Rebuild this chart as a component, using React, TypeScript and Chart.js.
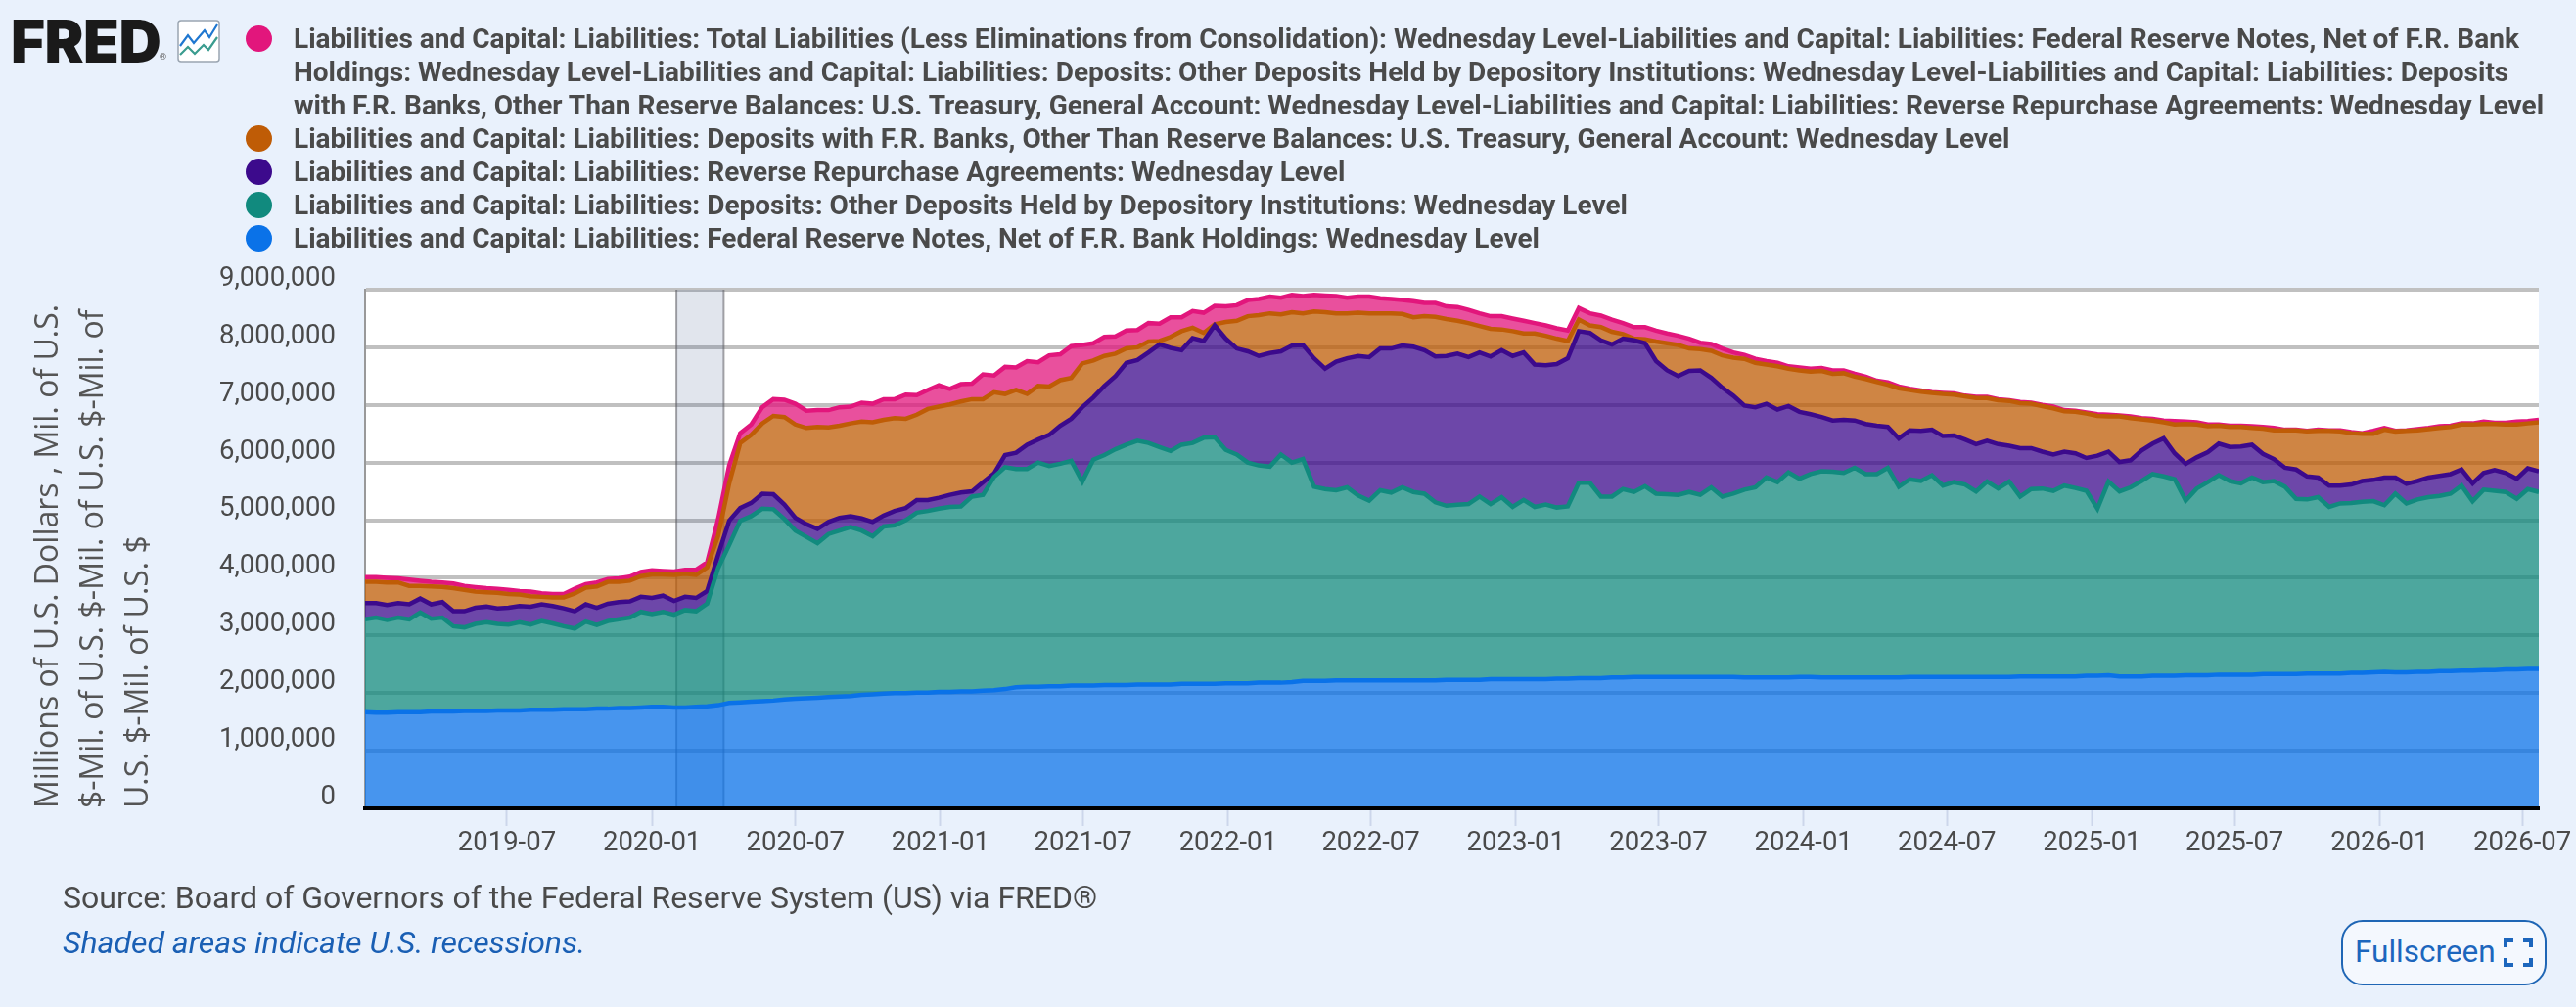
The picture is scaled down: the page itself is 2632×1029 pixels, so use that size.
import React, { useEffect, useRef } from 'react';
import { Chart, registerables } from 'chart.js';

Chart.register(...registerables);

// Levels every two weeks, in trillions of dollars.
// Each list is the top edge of its band in the stack, so bands fill down to the previous list.
const notesLevel = [
  1.67,1.66,1.66,1.67,1.67,1.67,1.68,1.68,1.68,1.69,1.69,1.69,1.70,1.70,1.70,1.71,1.71,1.71,1.72,1.72,1.72,1.73,1.73,1.74,1.74,1.75,1.76,1.76,1.75,1.75,1.76,1.77,1.79,
  1.83,1.84,1.85,1.86,1.87,1.89,1.90,1.91,1.92,1.93,1.94,1.95,1.97,1.98,1.99,2.00,2.00,2.01,2.01,2.02,2.02,2.03,2.03,2.04,2.05,2.07,2.10,2.11,2.11,2.12,2.12,2.13,2.13,
  2.13,2.14,2.14,2.14,2.15,2.15,2.15,2.15,2.16,2.16,2.16,2.16,2.17,2.17,2.17,2.18,2.18,2.18,2.19,2.21,2.21,2.21,2.22,2.22,2.22,2.22,2.22,2.22,2.22,2.22,2.22,2.22,2.23,
  2.23,2.23,2.23,2.24,2.24,2.24,2.24,2.24,2.24,2.25,2.25,2.26,2.26,2.26,2.27,2.27,2.28,2.28,2.28,2.28,2.28,2.28,2.28,2.28,2.28,2.28,2.27,2.27,2.27,2.27,2.27,2.28,2.28,
  2.27,2.27,2.27,2.27,2.27,2.27,2.27,2.27,2.28,2.28,2.28,2.28,2.28,2.28,2.28,2.28,2.28,2.28,2.29,2.29,2.29,2.29,2.29,2.29,2.30,2.30,2.31,2.29,2.29,2.29,2.30,2.30,2.30,
  2.31,2.31,2.31,2.32,2.32,2.32,2.32,2.33,2.33,2.33,2.33,2.34,2.34,2.34,2.34,2.35,2.35,2.36,2.37,2.36,2.36,2.37,2.37,2.38,2.38,2.39,2.39,2.40,2.40,2.41,2.41,2.42,2.42,
];
const otherDepositsLevel = [
  3.28,3.31,3.27,3.31,3.28,3.40,3.29,3.31,3.16,3.14,3.20,3.23,3.20,3.19,3.23,3.19,3.25,3.21,3.16,3.12,3.24,3.18,3.25,3.28,3.31,3.41,3.37,3.41,3.36,3.44,3.42,3.55,4.17,
  4.57,4.99,5.07,5.20,5.19,5.02,4.82,4.71,4.60,4.76,4.82,4.88,4.82,4.72,4.89,4.91,5.00,5.13,5.16,5.20,5.23,5.24,5.41,5.44,5.75,5.92,5.89,5.89,6.00,5.94,5.98,6.03,5.67,
  6.05,6.13,6.23,6.31,6.38,6.34,6.27,6.20,6.31,6.34,6.43,6.44,6.22,6.14,6.00,5.95,5.93,6.14,6.00,6.06,5.58,5.54,5.52,5.57,5.43,5.34,5.52,5.48,5.57,5.49,5.46,5.31,5.25,
  5.27,5.28,5.41,5.28,5.40,5.23,5.35,5.23,5.27,5.22,5.24,5.65,5.65,5.41,5.41,5.54,5.49,5.59,5.46,5.45,5.44,5.49,5.44,5.57,5.41,5.46,5.53,5.57,5.74,5.66,5.83,5.72,5.80,
  5.85,5.84,5.82,5.91,5.80,5.80,5.91,5.58,5.71,5.68,5.78,5.60,5.66,5.62,5.50,5.67,5.55,5.67,5.41,5.54,5.55,5.51,5.60,5.56,5.51,5.20,5.67,5.50,5.57,5.68,5.80,5.76,5.71,
  5.34,5.55,5.66,5.78,5.68,5.64,5.74,5.66,5.68,5.58,5.37,5.36,5.40,5.23,5.29,5.30,5.32,5.33,5.26,5.46,5.29,5.36,5.40,5.42,5.46,5.60,5.33,5.53,5.51,5.49,5.37,5.54,5.49,
];
const reverseRepoLevel = [
  3.56,3.56,3.53,3.56,3.54,3.64,3.54,3.58,3.42,3.42,3.48,3.50,3.47,3.48,3.51,3.50,3.54,3.51,3.47,3.42,3.54,3.48,3.55,3.58,3.59,3.67,3.65,3.69,3.60,3.67,3.65,3.77,4.40,
  4.99,5.21,5.30,5.46,5.45,5.27,5.04,4.93,4.85,4.97,5.04,5.07,5.03,4.97,5.08,5.16,5.21,5.35,5.35,5.39,5.44,5.48,5.50,5.66,5.81,6.13,6.17,6.31,6.40,6.48,6.64,6.76,6.96,
  7.13,7.33,7.50,7.73,7.78,7.91,8.05,7.99,7.95,8.16,8.11,8.38,8.15,7.98,7.93,7.85,7.90,7.93,8.03,8.04,7.81,7.63,7.75,7.81,7.85,7.83,7.98,7.98,8.03,8.01,7.95,7.84,7.85,
  7.89,7.83,7.91,7.84,7.95,7.85,7.91,7.70,7.69,7.71,7.81,8.28,8.25,8.12,8.05,8.15,8.12,8.07,7.76,7.60,7.50,7.59,7.60,7.47,7.30,7.16,6.99,6.96,7.02,6.92,6.98,6.88,6.84,
  6.79,6.73,6.74,6.73,6.67,6.64,6.62,6.42,6.56,6.55,6.57,6.46,6.47,6.40,6.32,6.38,6.32,6.29,6.25,6.25,6.19,6.14,6.19,6.16,6.08,6.12,6.19,6.01,6.04,6.21,6.33,6.42,6.16,
  5.98,6.09,6.18,6.33,6.27,6.28,6.31,6.15,6.06,5.91,5.88,5.76,5.74,5.60,5.60,5.62,5.68,5.70,5.74,5.74,5.63,5.68,5.74,5.77,5.80,5.88,5.64,5.82,5.87,5.82,5.72,5.90,5.85,
];
const treasuryLevel = [
  3.93,3.93,3.92,3.92,3.86,3.86,3.85,3.84,3.82,3.79,3.76,3.75,3.74,3.72,3.71,3.68,3.67,3.66,3.66,3.73,3.83,3.85,3.93,3.93,3.95,4.03,4.06,4.06,4.05,4.07,4.05,4.18,4.73,
  5.64,6.34,6.48,6.68,6.81,6.79,6.66,6.60,6.62,6.61,6.64,6.68,6.71,6.70,6.74,6.77,6.76,6.83,6.93,6.97,7.01,7.06,7.10,7.10,7.22,7.19,7.26,7.19,7.33,7.32,7.43,7.47,7.72,
  7.77,7.85,7.89,7.98,8.00,8.10,8.11,8.18,8.28,8.34,8.25,8.40,8.44,8.46,8.54,8.56,8.59,8.57,8.61,8.59,8.62,8.61,8.59,8.59,8.60,8.59,8.59,8.59,8.58,8.52,8.54,8.53,8.49,
  8.46,8.42,8.37,8.32,8.31,8.28,8.24,8.24,8.20,8.15,8.11,8.48,8.38,8.35,8.27,8.23,8.15,8.14,8.10,8.07,8.04,7.98,7.97,7.94,7.86,7.82,7.80,7.73,7.70,7.67,7.63,7.60,7.58,
  7.59,7.54,7.55,7.49,7.45,7.40,7.35,7.29,7.26,7.23,7.21,7.19,7.18,7.15,7.12,7.12,7.08,7.07,7.03,7.02,6.98,6.94,6.89,6.88,6.85,6.81,6.80,6.80,6.77,6.75,6.73,6.70,6.66,
  6.67,6.66,6.63,6.64,6.62,6.62,6.60,6.59,6.56,6.56,6.56,6.54,6.55,6.55,6.54,6.51,6.50,6.50,6.57,6.54,6.55,6.56,6.58,6.60,6.62,6.66,6.66,6.67,6.67,6.66,6.66,6.68,6.70,
];
const totalLevel = [
  4.01,4.01,4.00,3.99,3.97,3.95,3.93,3.92,3.90,3.86,3.84,3.82,3.81,3.79,3.77,3.76,3.73,3.72,3.72,3.81,3.89,3.92,3.98,3.99,4.02,4.10,4.13,4.12,4.11,4.14,4.14,4.27,5.02,
  5.95,6.51,6.66,6.96,7.10,7.09,7.02,6.90,6.91,6.91,6.96,6.97,7.04,7.02,7.10,7.10,7.18,7.17,7.26,7.34,7.28,7.36,7.37,7.53,7.51,7.66,7.65,7.76,7.74,7.86,7.88,8.02,8.04,
  8.07,8.18,8.19,8.29,8.30,8.42,8.41,8.52,8.52,8.63,8.60,8.72,8.71,8.73,8.82,8.84,8.88,8.86,8.91,8.89,8.91,8.90,8.89,8.86,8.88,8.88,8.85,8.84,8.82,8.80,8.77,8.77,8.71,
  8.70,8.65,8.59,8.54,8.54,8.50,8.46,8.42,8.38,8.33,8.29,8.68,8.59,8.55,8.48,8.42,8.35,8.35,8.29,8.24,8.20,8.15,8.08,8.06,7.98,7.91,7.87,7.80,7.76,7.73,7.67,7.65,7.63,
  7.64,7.60,7.60,7.54,7.49,7.42,7.39,7.32,7.28,7.25,7.22,7.21,7.20,7.16,7.14,7.14,7.10,7.08,7.05,7.04,7.00,6.97,6.91,6.90,6.87,6.84,6.83,6.82,6.80,6.77,6.76,6.73,6.72,
  6.71,6.70,6.66,6.66,6.64,6.64,6.63,6.62,6.60,6.57,6.57,6.55,6.57,6.56,6.56,6.53,6.51,6.55,6.60,6.55,6.56,6.58,6.60,6.63,6.64,6.68,6.68,6.71,6.69,6.69,6.71,6.72,6.74,
];

const firstDate = '2019-01-02';
const stepDays = 14;
const xTickLabels = ['2019-07', '2020-01', '2020-07', '2021-01', '2021-07', '2022-01', '2022-07', '2023-01', '2023-07', '2024-01', '2024-07', '2025-01', '2025-07', '2026-01', '2026-07'];
const yTicks = [0, 1000000, 2000000, 3000000, 4000000, 5000000, 6000000, 7000000, 8000000, 9000000];
const recession = ['2020-02-01', '2020-04-01'];

const yTitle = ['Millions of U.S. Dollars , Mil. of U.S.', '$-Mil. of U.S. $-Mil. of U.S. $-Mil. of', 'U.S. $-Mil. of U.S. $'];

const pink = '#e2167c';
const orange = '#bf5c06';
const purple = '#3c0a8c';
const teal = '#118a7e';
const blue = '#0a72e8';

const legendRows = [
  { color: pink, lines: [
    'Liabilities and Capital: Liabilities: Total Liabilities (Less Eliminations from Consolidation): Wednesday Level-Liabilities and Capital: Liabilities: Federal Reserve Notes, Net of F.R. Bank',
    'Holdings: Wednesday Level-Liabilities and Capital: Liabilities: Deposits: Other Deposits Held by Depository Institutions: Wednesday Level-Liabilities and Capital: Liabilities: Deposits',
    'with F.R. Banks, Other Than Reserve Balances: U.S. Treasury, General Account: Wednesday Level-Liabilities and Capital: Liabilities: Reverse Repurchase Agreements: Wednesday Level',
  ] },
  { color: orange, lines: ['Liabilities and Capital: Liabilities: Deposits with F.R. Banks, Other Than Reserve Balances: U.S. Treasury, General Account: Wednesday Level'] },
  { color: purple, lines: ['Liabilities and Capital: Liabilities: Reverse Repurchase Agreements: Wednesday Level'] },
  { color: teal, lines: ['Liabilities and Capital: Liabilities: Deposits: Other Deposits Held by Depository Institutions: Wednesday Level'] },
  { color: blue, lines: ['Liabilities and Capital: Liabilities: Federal Reserve Notes, Net of F.R. Bank Holdings: Wednesday Level'] },
];

const dayOf = (text: string) => {
  const [y, m, d] = text.split('-').map(Number);
  const [y0, m0, d0] = firstDate.split('-').map(Number);
  return (Date.UTC(y, m - 1, d || 1) - Date.UTC(y0, m0 - 1, d0)) / 86400000;
};

const toPoints = (levels: number[]) => levels.map((v, i) => ({ x: i * stepDays, y: v * 1000000 }));

const alpha = (hex: string) => hex + 'bf';

const makeBand = (label: string, levels: number[], color: string, fill: any) => ({
  label,
  data: toPoints(levels),
  borderColor: color,
  backgroundColor: alpha(color),
  borderWidth: 4.5,
  pointRadius: 0,
  tension: 0,
  fill,
});

// white plot area and the grey recession band behind the areas
const plotBackground = {
  id: 'plotBackground',
  beforeDraw(chart: any) {
    const { ctx, chartArea } = chart;
    ctx.save();
    ctx.fillStyle = '#ffffff';
    ctx.fillRect(chartArea.left, chartArea.top, chartArea.right - chartArea.left, chartArea.bottom - chartArea.top);
    ctx.restore();
  },
  beforeDatasetsDraw(chart: any) {
    const { ctx, chartArea, scales } = chart;
    const left = scales.x.getPixelForValue(dayOf(recession[0]));
    const right = scales.x.getPixelForValue(dayOf(recession[1]));
    ctx.save();
    ctx.fillStyle = 'rgba(55,82,135,0.15)';
    ctx.fillRect(left, chartArea.top, right - left, chartArea.bottom - chartArea.top);
    ctx.strokeStyle = 'rgba(90,90,95,0.55)';
    ctx.lineWidth = 2;
    ctx.beginPath();
    ctx.moveTo(left, chartArea.top);
    ctx.lineTo(left, chartArea.bottom);
    ctx.moveTo(right, chartArea.top);
    ctx.lineTo(right, chartArea.bottom);
    ctx.stroke();
    ctx.restore();
  },
};

const App: React.FC = () => {
  const canvasRef = useRef<HTMLCanvasElement>(null);

  useEffect(() => {
    document.body.style.margin = '0';
    document.body.style.background = '#e9f1fc';
    document.body.style.overflow = 'hidden';

    if (!canvasRef.current) return;
    const chart = new Chart(canvasRef.current, {
      type: 'line',
      data: {
        datasets: [
          makeBand('Federal Reserve Notes', notesLevel, blue, 'origin'),
          makeBand('Other Deposits', otherDepositsLevel, teal, '-1'),
          makeBand('Reverse Repurchase Agreements', reverseRepoLevel, purple, '-1'),
          makeBand('U.S. Treasury, General Account', treasuryLevel, orange, '-1'),
          makeBand('Total Liabilities', totalLevel, pink, '-1'),
        ] as any,
      },
      options: {
        responsive: false,
        animation: false,
        devicePixelRatio: 1,
        layout: { padding: { top: 296, right: 38, left: 0, bottom: 0 } },
        plugins: { legend: { display: false }, tooltip: { enabled: false }, title: { display: false } },
        scales: {
          x: {
            type: 'linear',
            min: 0,
            max: (totalLevel.length - 1) * stepDays,
            afterFit: (scale: any) => { scale.height = 203; },
            afterBuildTicks: (scale: any) => { scale.ticks = xTickLabels.map(t => ({ value: dayOf(t) })); },
            grid: { drawOnChartArea: false, drawTicks: true, tickLength: 18, tickColor: '#ccd6eb', tickWidth: 2 },
            border: { color: '#000000', width: 4, z: 2 },
            ticks: {
              autoSkip: false,
              maxRotation: 0,
              padding: 2,
              color: '#4a4a4a',
              font: { family: 'Roboto', size: 27.5 },
              callback: (_v: any, i: number) => xTickLabels[i],
            },
          },
          y: {
            min: 0,
            max: 9000000,
            afterFit: (scale: any) => { scale.width = 373; },
            afterBuildTicks: (scale: any) => { scale.ticks = yTicks.map(v => ({ value: v })); },
            grid: { color: '#c0c0c0', lineWidth: 4, drawTicks: false, tickLength: 0 },
            border: { color: '#999999', width: 2 },
            ticks: {
              padding: 30,
              labelOffset: -11,
              color: '#4a4a4a',
              font: { family: 'Roboto', size: 27.5 },
              callback: (v: any) => Number(v).toLocaleString('en-US'),
            },
            title: {
              display: true,
              text: yTitle,
              align: 'start',
              color: '#555555',
              padding: { top: 27, bottom: 0 },
              font: { family: 'Open Sans', size: 32, lineHeight: 46 / 32 },
            },
          },
        },
      } as any,
      plugins: [plotBackground],
    });

    return () => {
      chart.destroy();
    };
  }, []);

  return (
    <div style={{ position: 'relative', width: 2632, height: 1029, overflow: 'hidden', fontFamily: 'Roboto' }}>
      <canvas ref={canvasRef} width={2632} height={1029} style={{ display: 'block', position: 'absolute', left: 0, top: 0 }} />

      <div style={{ position: 'absolute', left: 11, top: 8, fontFamily: 'Inter', fontWeight: 900, fontSize: 60, lineHeight: '68px', color: '#1a1a1a', letterSpacing: -0.5 }}>FRED</div>
      <div style={{ position: 'absolute', left: 163, top: 53, fontFamily: 'Roboto', fontSize: 9, lineHeight: '10px', color: '#666666' }}>®</div>
      <svg style={{ position: 'absolute', left: 181, top: 20 }} width={44} height={44} viewBox="0 0 44 44">
        <rect x={1} y={1} width={42} height={42} rx={3} fill="#ffffff" stroke="#9aa5b1" strokeWidth={1.5} />
        <polyline points="3,27 11,16 17,24 28,11 33,18 41,5" fill="none" stroke="#1f77d0" strokeWidth={2.2} />
        <polyline points="3,36 11,28 18,35 27,26 32,31 41,18" fill="none" stroke="#3a9c8f" strokeWidth={2.2} />
      </svg>

      <div style={{ position: 'absolute', left: 0, top: 23, fontSize: 28, fontWeight: 700, lineHeight: '34px', color: '#4a4a4a', whiteSpace: 'nowrap' }}>
        {legendRows.map(row => (
          <div key={row.color} style={{ position: 'relative', paddingLeft: 300 }}>
            <span style={{ position: 'absolute', left: 251, top: 3, width: 27, height: 27, borderRadius: '50%', background: row.color }} />
            {row.lines.map(line => <div key={line}>{line}</div>)}
          </div>
        ))}
      </div>

      <div style={{ position: 'absolute', left: 64, top: 899, fontSize: 32, lineHeight: '36px', color: '#4a4a4a', whiteSpace: 'nowrap' }}>
        Source: Board of Governors of the Federal Reserve System (US) via FRED®
      </div>
      <div style={{ position: 'absolute', left: 64, top: 945, fontSize: 32, lineHeight: '36px', fontStyle: 'italic', color: '#1a5fb4', whiteSpace: 'nowrap' }}>
        Shaded areas indicate U.S. recessions.
      </div>

      <div style={{ position: 'absolute', left: 2392, top: 940, width: 210, height: 67, boxSizing: 'border-box', border: '2px solid #1f66b5', borderRadius: 22, background: '#f4f8fe', color: '#1c66bd', fontSize: 31.5, lineHeight: '62px', paddingLeft: 12 }}>
        Fullscreen
        <svg style={{ position: 'absolute', left: 164, top: 17 }} width={30} height={29} viewBox="0 0 30 29" fill="none" stroke="#1c66bd" strokeWidth={4}>
          <polyline points="2,9 2,2 10,2" />
          <polyline points="20,2 28,2 28,9" />
          <polyline points="2,20 2,27 10,27" />
          <polyline points="20,27 28,27 28,20" />
        </svg>
      </div>
    </div>
  );
};

export default App;
